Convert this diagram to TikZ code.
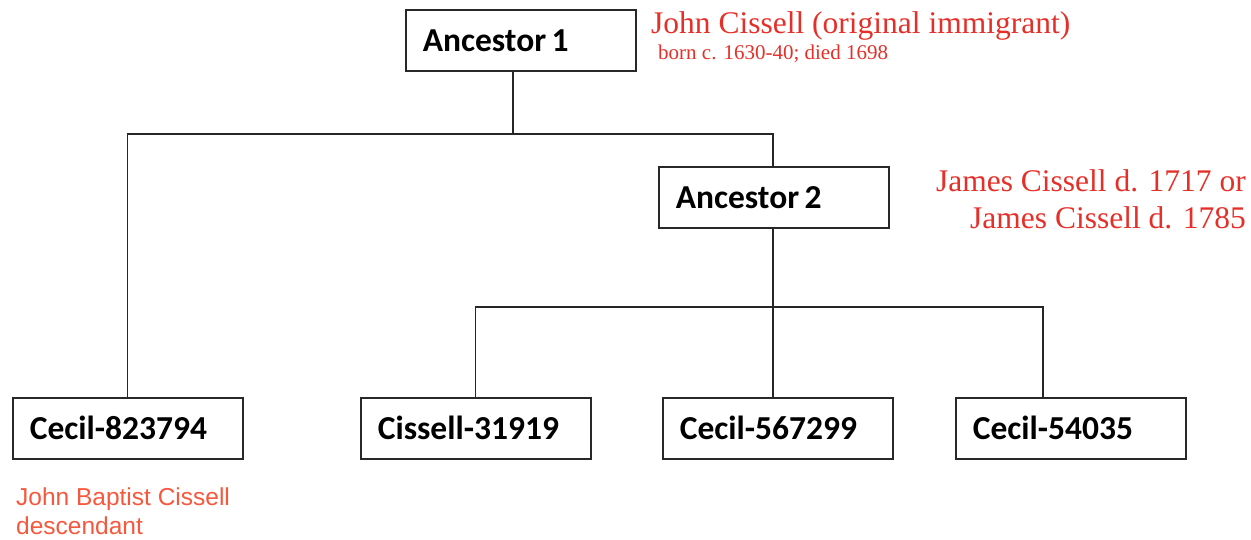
\documentclass[tikz,border=0pt]{standalone}
\usepackage{fontspec}
\setmainfont{Liberation Serif}
\newfontfamily\boxfont{Carlito}
\newfontfamily\notefont{Liberation Sans}
\definecolor{notered}{RGB}{228,48,40}
\definecolor{noteorange}{RGB}{246,88,62}
\definecolor{boxline}{RGB}{40,40,40}
\begin{document}
\begin{tikzpicture}[x=1pt,y=-1pt,
  personbox/.style={draw=boxline,line width=1.6pt,anchor=north west,
    minimum width=230pt,minimum height=61pt,text width=196pt,inner xsep=17pt,
    align=left,font=\boxfont\bfseries\fontsize{33.5}{38}\selectfont},
  link/.style={draw=black!85,line width=1.1pt},
  serifnote/.style={text=notered,inner sep=0pt},
  sansnote/.style={text=noteorange,inner sep=0pt,anchor=base west,
    font=\notefont\fontsize{24.5}{29}\selectfont}]
\useasboundingbox (0,0) rectangle (1251,539);
\node[personbox] (a1) at (405,9) {Ancestor\,1};
\node[personbox] (a2) at (658,166) {Ancestor\,2};
\node[personbox] (c1) at (12,397) {Cecil-823794};
\node[personbox] (c2) at (360,397) {Cissell-31919};
\node[personbox] (c3) at (662,397) {Cecil-567299};
\node[personbox] (c4) at (955,397) {Cecil-54035};
\coordinate (j1) at (513,134);
\coordinate (j2) at (773,307);
\coordinate (k4) at (1043,307);
\draw[link] (j1 |- a1.south) -- (j1);
\draw[link] (c1.north) -- (c1.north |- j1) -- (j2 |- j1) -- (j2 |- a2.north);
\draw[link] (j2 |- a2.south) -- (j2 |- c3.north);
\draw[link] (c2.north) -- (c2.north |- j2) -- (k4) -- (k4 |- c4.north);
\node[serifnote,anchor=base west,font=\fontsize{31.5}{36}\selectfont] (n1) at (651,33) {John Cissell (original immigrant)};
\node[serifnote,anchor=base west,font=\fontsize{21}{25}\selectfont] (n2) at (658,59) {born c. 1630-40; died 1698};
\node[serifnote,anchor=base east,font=\fontsize{31.5}{36}\selectfont] (n3) at (1246,191) {James Cissell d. 1717 or};
\node[serifnote,anchor=base east,font=\fontsize{31.5}{36}\selectfont] (n4) at (1246,228) {James Cissell d. 1785};
\node[sansnote] (n5) at (16,505) {John Baptist Cissell};
\node[sansnote] (n6) at (16,534) {descendant};
\end{tikzpicture}
\end{document}
